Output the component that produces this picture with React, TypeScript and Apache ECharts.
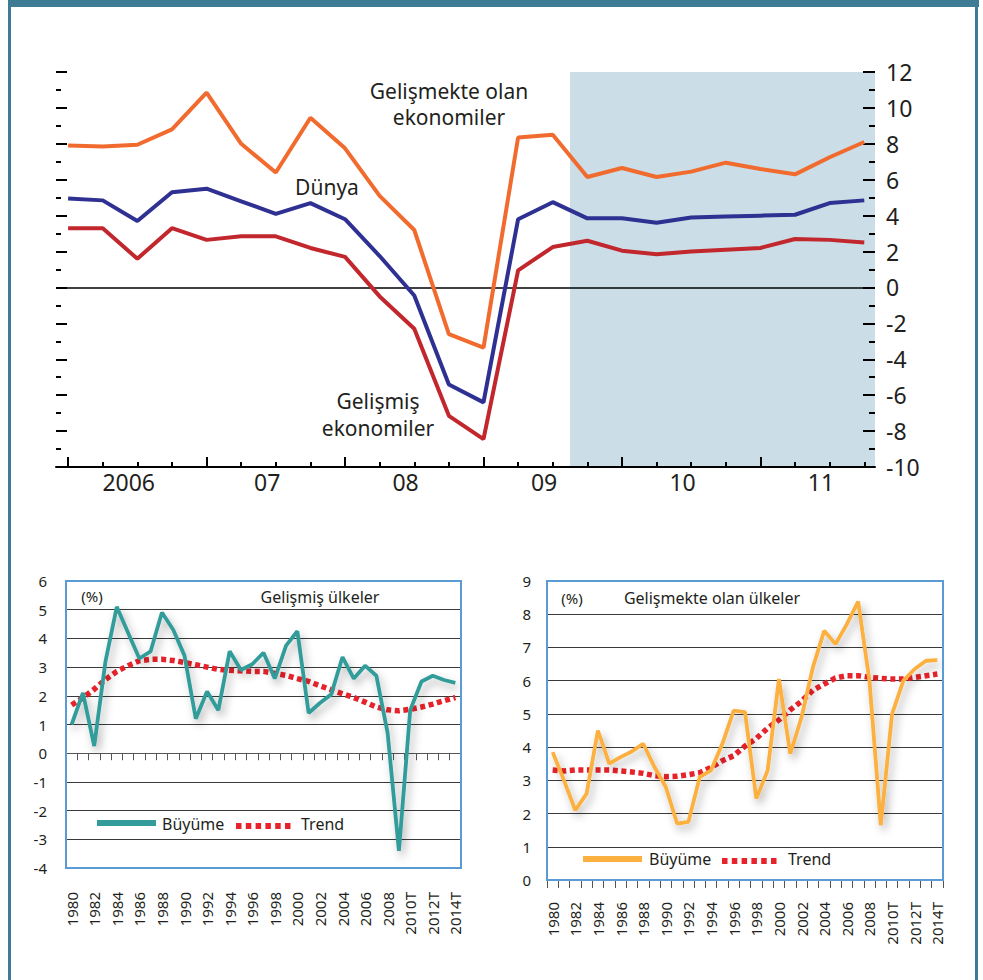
import React, { useEffect, useRef } from 'react';
import * as echarts from 'echarts';

// ---------- Top chart (quarterly, 2006Q1 .. 2011Q4) ----------
const topYears = ['2006', '07', '08', '09', '10', '11'];
const gelismekteOlan = [7.9, 7.85, 7.95, 8.8, 10.85, 8.0, 6.4, 9.45, 7.75, 5.1, 3.2, -2.6, -3.35, 8.35, 8.5, 6.15, 6.65, 6.15, 6.45, 6.95, 6.6, 6.3, 7.25, 8.1];
const dunya = [4.95, 4.85, 3.7, 5.3, 5.5, 4.8, 4.1, 4.7, 3.8, 1.75, -0.45, -5.4, -6.4, 3.8, 4.75, 3.85, 3.85, 3.6, 3.9, 3.95, 4.0, 4.05, 4.7, 4.85];
const gelismis = [3.3, 3.3, 1.6, 3.3, 2.65, 2.85, 2.85, 2.2, 1.7, -0.5, -2.3, -7.15, -8.45, 0.95, 2.25, 2.6, 2.05, 1.85, 2.0, 2.1, 2.2, 2.7, 2.65, 2.5];
const projectionStart = 14.5; // quarter index where the shaded (forecast) band starts

// ---------- Bottom charts (annual, 1980 .. 2014T) ----------
const years = [
  '1980', '1981', '1982', '1983', '1984', '1985', '1986', '1987', '1988', '1989',
  '1990', '1991', '1992', '1993', '1994', '1995', '1996', '1997', '1998', '1999',
  '2000', '2001', '2002', '2003', '2004', '2005', '2006', '2007', '2008', '2009',
  '2010T', '2011T', '2012T', '2013T', '2014T',
];
const gelismisBuyume = [1.0, 2.1, 0.25, 3.2, 5.1, 4.2, 3.3, 3.55, 4.9, 4.3, 3.4, 1.2, 2.15, 1.5, 3.55, 2.9, 3.1, 3.5, 2.6, 3.75, 4.25, 1.4, 1.75, 2.05, 3.35, 2.6, 3.05, 2.7, 0.7, -3.4, 1.5, 2.5, 2.7, 2.55, 2.45];
const gelismisTrend = [1.68, 1.93, 2.23, 2.57, 2.85, 3.05, 3.22, 3.27, 3.27, 3.23, 3.16, 3.08, 3.0, 2.92, 2.89, 2.87, 2.85, 2.85, 2.78, 2.71, 2.6, 2.5, 2.35, 2.21, 2.07, 1.94, 1.78, 1.61, 1.51, 1.48, 1.53, 1.61, 1.71, 1.83, 1.94];
const gelismekteBuyume = [3.85, 3.0, 2.1, 2.6, 4.5, 3.5, 3.7, 3.87, 4.1, 3.4, 2.8, 1.7, 1.75, 3.1, 3.3, 4.1, 5.1, 5.05, 2.45, 3.3, 6.05, 3.8, 4.9, 6.4, 7.5, 7.1, 7.7, 8.38, 6.0, 1.65, 5.0, 6.0, 6.35, 6.6, 6.62];
const gelismekteTrend = [3.31, 3.28, 3.31, 3.31, 3.31, 3.31, 3.28, 3.25, 3.21, 3.14, 3.11, 3.12, 3.17, 3.23, 3.39, 3.59, 3.74, 4.03, 4.26, 4.57, 4.82, 5.12, 5.38, 5.71, 5.9, 6.08, 6.15, 6.15, 6.1, 6.07, 6.05, 6.05, 6.1, 6.15, 6.2];

const FONT = '"Noto Sans", sans-serif';
const TXT = '#231f20';
const C_ORANGE = '#f26b2e';
const C_BLUE = '#2e3192';
const C_RED = '#c1272d';
const C_TEAL = '#339c9a';
const C_GOLD = '#fbb040';
const C_DOT = '#e8222a';
const C_FRAME = '#3e7b94';
const C_BOX = '#5b9bd5';

const quarterIdx = gelismis.map((_, i) => i);
const yearStartIdx = topYears.map((_, k) => k * 4);
const yearLabelPos = topYears.map((_, k) => k * 4 + 1.75);
const X_MIN = -0.35;
const X_MAX = 23.31;

const blackTick = { color: '#000', width: 2 };

function buildOption(): any {
  const shadow = { shadowColor: 'rgba(0,0,0,0.3)', shadowBlur: 9, shadowOffsetX: 3, shadowOffsetY: 5 };
  const textEl = (text: string, x: number, y: number, size: number, align = 'center', lineHeight?: number) => ({
    type: 'text',
    x,
    y,
    z: 100,
    style: {
      text, fill: TXT, font: `${size}px ${FONT}`, textAlign: align, textVerticalAlign: 'middle',
      ...(lineHeight ? { lineHeight } : {}),
    },
  });
  return {
    animation: false,
    backgroundColor: '#fff',
    textStyle: { fontFamily: FONT },
    grid: [
      { left: 56, top: 72, width: 819, height: 395 },
      { left: 66, top: 581, width: 395, height: 287 },
      { left: 547, top: 581, width: 396, height: 299 },
    ],
    xAxis: [
      {
        gridIndex: 0, type: 'value', min: X_MIN, max: X_MAX, position: 'bottom', z: 1.5,
        axisLine: { show: true, onZero: false, lineStyle: { color: '#000', width: 2 } },
        axisTick: { show: true, inside: true, length: 5, customValues: quarterIdx, lineStyle: blackTick },
        axisLabel: {
          show: true, customValues: yearLabelPos, margin: 3, fontSize: 23, color: TXT, fontFamily: FONT,
          formatter: (v: number) => topYears[Math.round((v - 1.75) / 4)] ?? '',
        },
        splitLine: { show: false },
      },
      {
        gridIndex: 0, type: 'value', min: X_MIN, max: X_MAX, position: 'bottom', z: 1.5,
        axisLine: { show: false, onZero: false },
        axisTick: { show: true, inside: true, length: 10, customValues: yearStartIdx, lineStyle: blackTick },
        axisLabel: { show: false },
        splitLine: { show: false },
      },
      {
        gridIndex: 1, type: 'category', data: years, boundaryGap: true, position: 'bottom',
        axisLine: { show: false, onZero: false },
        axisTick: { show: false },
        axisLabel: { interval: 1, rotate: 90, margin: 24, fontSize: 15, color: TXT, fontFamily: FONT },
        splitLine: { show: false },
      },
      {
        gridIndex: 1, type: 'category', data: years, boundaryGap: true, position: 'bottom',
        axisLine: { show: true, onZero: true, lineStyle: { color: '#555', width: 1 } },
        axisTick: { show: true, interval: 0, length: 7, lineStyle: { color: '#555', width: 1 } },
        axisLabel: { show: false },
        splitLine: { show: false },
      },
      {
        gridIndex: 2, type: 'category', data: years, boundaryGap: true, position: 'bottom',
        axisLine: { show: false },
        axisTick: { show: true, interval: 0, length: 8, lineStyle: { color: '#555', width: 1 } },
        axisLabel: { interval: 1, rotate: 90, margin: 22, fontSize: 15, color: TXT, fontFamily: FONT },
        splitLine: { show: false },
      },
    ],
    yAxis: [
      {
        gridIndex: 0, type: 'value', min: -10, max: 12, interval: 2, position: 'left', z: 1.5,
        axisLine: { show: false, onZero: false },
        axisTick: { show: true, inside: true, length: 11, lineStyle: blackTick },
        minorTick: { show: true, splitNumber: 2, length: 5, lineStyle: blackTick },
        axisLabel: { show: false },
        splitLine: { show: false },
      },
      {
        gridIndex: 0, type: 'value', min: -10, max: 12, interval: 2, position: 'right', z: 1.5,
        axisLine: { show: false, onZero: false },
        axisTick: { show: true, inside: true, length: 12, lineStyle: blackTick },
        minorTick: { show: true, splitNumber: 2, length: 6, lineStyle: blackTick },
        axisLabel: { show: true, margin: 11, fontSize: 23, color: TXT, fontFamily: FONT },
        splitLine: { show: false },
      },
      {
        gridIndex: 1, type: 'value', min: -4, max: 6, interval: 1,
        axisLine: { show: false }, axisTick: { show: false },
        axisLabel: { margin: 19, fontSize: 15, color: TXT, fontFamily: FONT },
        splitLine: { show: true, lineStyle: { color: '#3a3a3a', width: 1.2 } },
      },
      {
        gridIndex: 2, type: 'value', min: 0, max: 9, interval: 1,
        axisLine: { show: false }, axisTick: { show: false },
        axisLabel: { margin: 16, fontSize: 15, color: TXT, fontFamily: FONT },
        splitLine: { show: true, lineStyle: { color: '#3a3a3a', width: 1.2 } },
      },
    ],
    series: [
      {
        name: 'Gelişmiş ekonomiler', type: 'line', xAxisIndex: 0, yAxisIndex: 0, symbol: 'none', z: 3,
        data: gelismis.map((v, i) => [i, v]),
        lineStyle: { color: C_RED, width: 4 },
        markArea: {
          silent: true, z: 1,
          itemStyle: { color: '#cbdde6' },
          data: [[{ xAxis: projectionStart }, { xAxis: X_MAX }]],
        },
        markLine: {
          silent: true, symbol: 'none', z: 2,
          label: { show: false },
          lineStyle: { color: '#000', width: 1.5, type: 'solid' },
          data: [{ yAxis: 0 }],
        },
      },
      {
        name: 'Dünya', type: 'line', xAxisIndex: 0, yAxisIndex: 0, symbol: 'none', z: 3,
        data: dunya.map((v, i) => [i, v]),
        lineStyle: { color: C_BLUE, width: 4 },
      },
      {
        name: 'Gelişmekte olan ekonomiler', type: 'line', xAxisIndex: 0, yAxisIndex: 0, symbol: 'none', z: 3,
        data: gelismekteOlan.map((v, i) => [i, v]),
        lineStyle: { color: C_ORANGE, width: 4 },
      },
      {
        name: 'Trend (gelişmiş)', type: 'line', xAxisIndex: 2, yAxisIndex: 2, symbol: 'none', z: 3,
        data: gelismisTrend,
        lineStyle: { color: C_DOT, width: 5.5, type: [5, 3.6], cap: 'butt' },
      },
      {
        name: 'Büyüme (gelişmiş)', type: 'line', xAxisIndex: 2, yAxisIndex: 2, symbol: 'none', z: 4,
        data: gelismisBuyume,
        lineStyle: { color: C_TEAL, width: 3.8, ...shadow },
      },
      {
        name: 'Trend (gelişmekte)', type: 'line', xAxisIndex: 4, yAxisIndex: 3, symbol: 'none', z: 3,
        data: gelismekteTrend,
        lineStyle: { color: C_DOT, width: 5.5, type: [5, 3.6], cap: 'butt' },
      },
      {
        name: 'Büyüme (gelişmekte)', type: 'line', xAxisIndex: 4, yAxisIndex: 3, symbol: 'none', z: 4,
        data: gelismekteBuyume,
        lineStyle: { color: C_GOLD, width: 3.8, ...shadow },
      },
    ],
    graphic: [
      // outer frame
      { type: 'rect', z: 100, shape: { x: 8, y: 0, width: 971, height: 7 }, style: { fill: C_FRAME } },
      { type: 'rect', z: 100, shape: { x: 8, y: 0, width: 3, height: 980 }, style: { fill: C_FRAME } },
      { type: 'rect', z: 100, shape: { x: 975, y: 0, width: 3, height: 980 }, style: { fill: C_FRAME } },
      // bottom chart boxes
      { type: 'rect', z: 100, shape: { x: 66, y: 581, width: 395, height: 287 }, style: { fill: 'none', stroke: C_BOX, lineWidth: 2 } },
      { type: 'rect', z: 100, shape: { x: 547, y: 581, width: 396, height: 299 }, style: { fill: 'none', stroke: C_BOX, lineWidth: 2 } },
      // top chart annotations
      textEl('Gelişmekte olan\nekonomiler', 449, 103.5, 21, 'center', 26),
      textEl('Dünya', 327, 187, 21),
      textEl('Gelişmiş\nekonomiler', 378, 414.5, 21, 'center', 27),
      // bottom-left titles & legend
      textEl('(%)', 92, 596, 15),
      textEl('Gelişmiş ülkeler', 320, 597, 16),
      { type: 'line', z: 100, shape: { x1: 97, y1: 823, x2: 156, y2: 823 }, style: { stroke: C_TEAL, lineWidth: 6 } },
      textEl('Büyüme', 162, 824, 16, 'left'),
      { type: 'line', z: 100, shape: { x1: 236, y1: 826, x2: 294, y2: 826 }, style: { stroke: C_DOT, lineWidth: 6, lineDash: [5.5, 4.3] } },
      textEl('Trend', 301, 824, 16, 'left'),
      // bottom-right titles & legend
      textEl('(%)', 572, 598, 15),
      textEl('Gelişmekte olan ülkeler', 712, 598, 16),
      { type: 'line', z: 100, shape: { x1: 583, y1: 859, x2: 642, y2: 859 }, style: { stroke: C_GOLD, lineWidth: 6 } },
      textEl('Büyüme', 649, 859, 16, 'left'),
      { type: 'line', z: 100, shape: { x1: 722, y1: 861, x2: 780, y2: 861 }, style: { stroke: C_DOT, lineWidth: 6, lineDash: [5.5, 4.3] } },
      textEl('Trend', 788, 859, 16, 'left'),
    ],
  };
}

export default function App() {
  const ref = useRef<HTMLDivElement>(null);
  useEffect(() => {
    if (!ref.current) return;
    const chart = echarts.init(ref.current, null, { renderer: 'svg' });
    chart.setOption(buildOption());
    return () => chart.dispose();
  }, []);
  return (
    <div
      ref={ref}
      style={{ position: 'fixed', left: 0, top: 0, width: 983, height: 980, background: '#fff' }}
    />
  );
}
